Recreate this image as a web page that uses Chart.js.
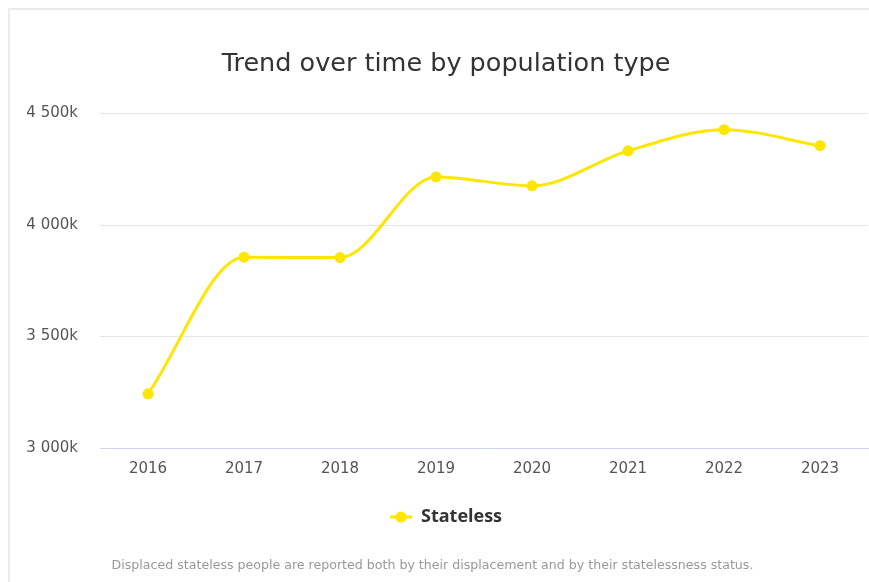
<!DOCTYPE html>
<html lang="en">
<head>
    <meta charset="UTF-8">
    <title>Trend over time by population type</title>
    <script src="https://cdn.jsdelivr.net/npm/chart.js"></script>
    <style>
        body {
            margin: 0;
            background: #fff;
            overflow: hidden;
            width: 869px;
            height: 582px;
            position: relative;
        }
        #card {
            position: absolute;
            left: 8px;
            top: 8px;
            width: 880px;
            height: 600px;
            border-left: 2px solid #ececec;
            border-top: 2px solid #ececec;
        }
        #wrap {
            position: absolute;
            left: 0;
            top: 0;
            width: 882px;
            height: 582px;
        }
        #note {
            position: absolute;
            left: 0;
            width: 865px;
            top: 557px;
            text-align: center;
            font: 12.6px/16px 'DejaVu Sans', sans-serif;
            color: #999;
        }
    </style>
</head>
<body>
<div id="card"></div>
<div id="wrap">
    <canvas id="trendChart"></canvas>
</div>
<div id="note">Displaced stateless people are reported both by their displacement and by their statelessness status.</div>
<script>
    // values
    const years = ['2016', '2017', '2018', '2019', '2020', '2021', '2022', '2023'];
    const stateless = [3243000, 3856000, 3854000, 4216000, 4176000, 4333000, 4428000, 4356000];
    const yTicks = [3000000, 3500000, 4000000, 4500000];

    const FONT = "'DejaVu Sans', sans-serif";
    const YELLOW = '#ffe600';

    function fmtK(v) {
        const k = Math.round(v / 1000);
        return String(k).replace(/\B(?=(\d{3})+(?!\d))/g, ' ') + 'k';
    }

    new Chart(document.getElementById('trendChart'), {
        type: 'line',
        data: {
            labels: years,
            datasets: [{
                label: 'Stateless',
                data: stateless,
                borderColor: YELLOW,
                backgroundColor: YELLOW,
                borderWidth: 3,
                pointRadius: 5.5,
                pointHoverRadius: 6,
                pointBorderWidth: 0,
                cubicInterpolationMode: 'monotone'
            }]
        },
        options: {
            responsive: true,
            maintainAspectRatio: false,
            animation: false,
            layout: {
                padding: { left: 10, right: 0, top: 49, bottom: 46 }
            },
            scales: {
                x: {
                    offset: true,
                    grid: { display: false },
                    border: { color: '#ccd6eb', width: 1 },
                    ticks: {
                        color: '#555',
                        font: { family: FONT, size: 15 },
                        padding: 4
                    },
                    afterFit: (s) => { s.paddingRight = 14; }
                },
                y: {
                    min: 3000000,
                    max: 4500000,
                    afterBuildTicks: (axis) => {
                        axis.ticks = yTicks.map(v => ({ value: v }));
                    },
                    afterFit: (s) => { s.width = 90; },
                    grid: { color: '#e6e6e6', drawTicks: false },
                    border: { display: false },
                    ticks: {
                        color: '#555',
                        font: { family: FONT, size: 15 },
                        padding: 22,
                        callback: (v) => fmtK(v)
                    }
                }
            },
            plugins: {
                title: {
                    display: true,
                    text: 'Trend over time by population type',
                    color: '#333',
                    font: { family: FONT, size: 25.5, weight: 'normal' },
                    padding: { top: 0, bottom: 34 }
                },
                legend: {
                    position: 'bottom',
                    labels: {
                        color: '#333',
                        font: { family: "'Open Sans', sans-serif", size: 18, weight: 'bold' },
                        boxWidth: 22,
                        boxHeight: 3,
                        padding: 26,
                        generateLabels: (chart) => {
                            const items = Chart.defaults.plugins.legend.labels.generateLabels(chart);
                            items.forEach(it => {
                                it.fillStyle = 'rgba(0,0,0,0)';
                                it.strokeStyle = 'rgba(0,0,0,0)';
                                it.lineWidth = 0;
                            });
                            return items;
                        }
                    }
                },
                tooltip: { enabled: false }
            }
        },
        plugins: [{
            // line + dot marker for the legend entry
            id: 'legendMarker',
            afterDraw(chart) {
                const lg = chart.legend;
                if (!lg || !lg.legendHitBoxes.length) return;
                const box = lg.legendHitBoxes[0];
                const cy = box.top + box.height / 2;
                const ctx = chart.ctx;
                ctx.save();
                ctx.strokeStyle = YELLOW;
                ctx.lineWidth = 3;
                ctx.beginPath();
                ctx.moveTo(box.left, cy);
                ctx.lineTo(box.left + 22, cy);
                ctx.stroke();
                ctx.fillStyle = YELLOW;
                ctx.beginPath();
                ctx.arc(box.left + 11, cy, 5.5, 0, Math.PI * 2);
                ctx.fill();
                ctx.restore();
            }
        }]
    });
</script>
</body>
</html>
